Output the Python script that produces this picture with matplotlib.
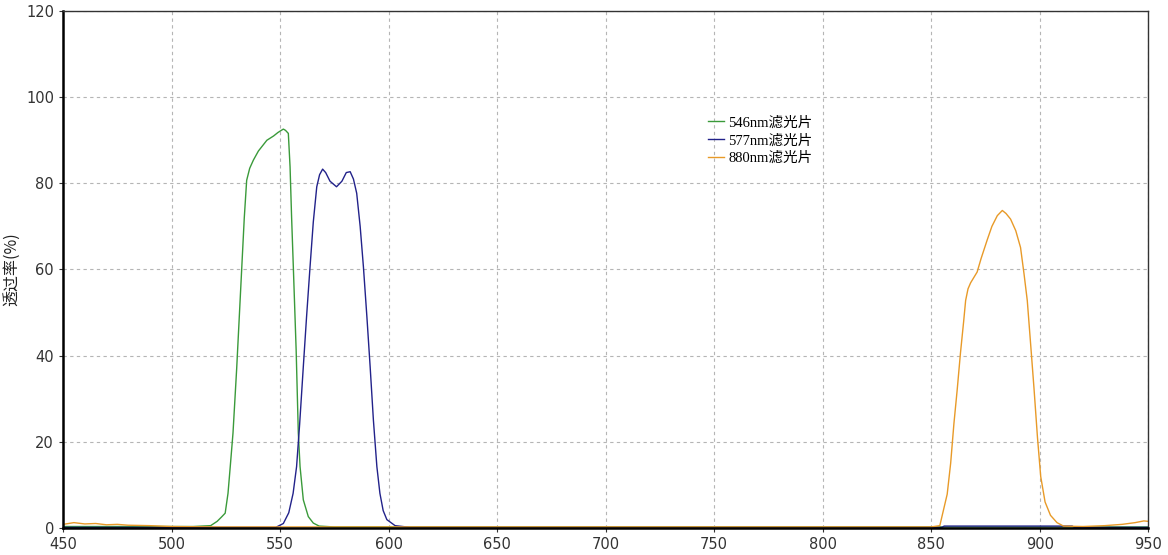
import matplotlib
matplotlib.use("Agg")
import matplotlib.pyplot as plt

# transmission curves
WL_546 = [450, 510, 518, 521, 523, 524.7, 526, 527, 528.3, 530, 532.3, 533.5, 534.6, 536,
          537.7, 540, 543.9, 547, 549, 551.5, 552.5, 553.8, 554.6, 555.3, 556.1, 557.4,
          558.4, 559.2, 560.7, 563, 565.3, 568, 575, 950]
T_546 = [0.3, 0.3, 0.5, 1.5, 2.5, 3.4, 8, 14, 22, 37, 60, 72, 80.7, 83.5,
         85.4, 87.5, 90, 91, 91.8, 92.6, 92.3, 91.6, 83.8, 72.2, 60.6, 41.3,
         22, 14.2, 6.5, 2.6, 1.1, 0.4, 0.2, 0.2]

WL_577 = [450, 548, 551.5, 554, 556, 557.6, 559, 560.7, 562.2, 563.8, 565.3, 566.9, 568.2,
          569.6, 571, 573, 576, 578.5, 580.5, 582.3, 583.8, 585.3, 586.9, 588.4, 590,
          591.5, 593, 594.6, 596, 597.5, 599.2, 603, 610, 855, 856, 915, 916, 950]
T_577 = [0.1, 0.1, 1, 3.5, 8, 14.2, 24, 37.4, 49, 60.6, 71, 79.2, 82,
         83.3, 82.5, 80.5, 79.2, 80.5, 82.5, 82.7, 81, 77.7, 70, 60.6, 49,
         37.4, 25, 14.2, 8, 4, 1.9, 0.5, 0.1, 0.1, 0.4, 0.4, 0.1, 0.1]

WL_880 = [450, 455, 460, 465, 470, 475, 480, 490, 500, 520, 850, 854, 857.4, 859, 860.5,
          862, 863.5, 865, 865.9, 867, 868.2, 871.2, 873, 875.8, 878, 880.5, 882.8,
          884.5, 886.6, 889, 891.2, 892.8, 894.3, 895.8, 897.4, 899, 900.5, 902.5, 905,
          908, 911, 920, 930, 938, 944, 948, 950]
T_880 = [0.8, 1.2, 0.9, 1.0, 0.7, 0.8, 0.6, 0.5, 0.3, 0.2, 0.2, 0.5, 7.8, 15, 24.2,
         32, 40.5, 48, 52.8, 55.5, 56.9, 59.4, 62.5, 66.8, 70, 72.5, 73.7,
         73, 71.7, 69, 65.1, 59, 52.8, 43, 32.4, 21, 11.9, 6, 2.9,
         1.2, 0.4, 0.3, 0.5, 0.8, 1.2, 1.6, 1.5]

LABELS = ["546nm滤光片", "577nm滤光片", "880nm滤光片"]
COLORS = ["#3a9a3a", "#22228a", "#e89a28"]
X_TICKS = list(range(450, 951, 50))
Y_TICKS = list(range(0, 121, 20))

plt.rcParams["font.family"] = ["DejaVu Sans", "Noto Sans CJK SC"]

fig = plt.figure(figsize=(11.68, 5.55), dpi=100)
ax = fig.add_axes([0.054, 0.049, 0.929, 0.931])

for wl, t, lab, c in zip([WL_546, WL_577, WL_880], [T_546, T_577, T_880], LABELS, COLORS):
    ax.plot(wl, t, color=c, lw=1.0, label=lab)

ax.set_xlim(450, 950)
ax.set_ylim(0, 120)
ax.set_xticks(X_TICKS)
ax.set_yticks(Y_TICKS)
ax.tick_params(labelsize=10.5, colors="#333333", length=3, width=0.8)
ax.grid(True, color="#b5b5b5", ls=(0, (3, 3)), lw=0.8)
ax.set_axisbelow(True)
for sp in ("left", "bottom"):
    ax.spines[sp].set_linewidth(1.8)
    ax.spines[sp].set_color("black")
for sp in ("top", "right"):
    ax.spines[sp].set_linewidth(1.0)
    ax.spines[sp].set_color("#333333")

ax.set_ylabel("透过率(%)", family=["Noto Sans CJK SC"], fontsize=11.5, color="#222222",
              labelpad=4)

ax.legend(loc="upper left", bbox_to_anchor=(0.582, 0.822), frameon=False,
          handlelength=1.1, handletextpad=0.3, labelspacing=0.3,
          prop={"family": ["Liberation Serif", "Noto Sans CJK SC"], "size": 10.5})

fig.savefig("out.png", dpi=100)
